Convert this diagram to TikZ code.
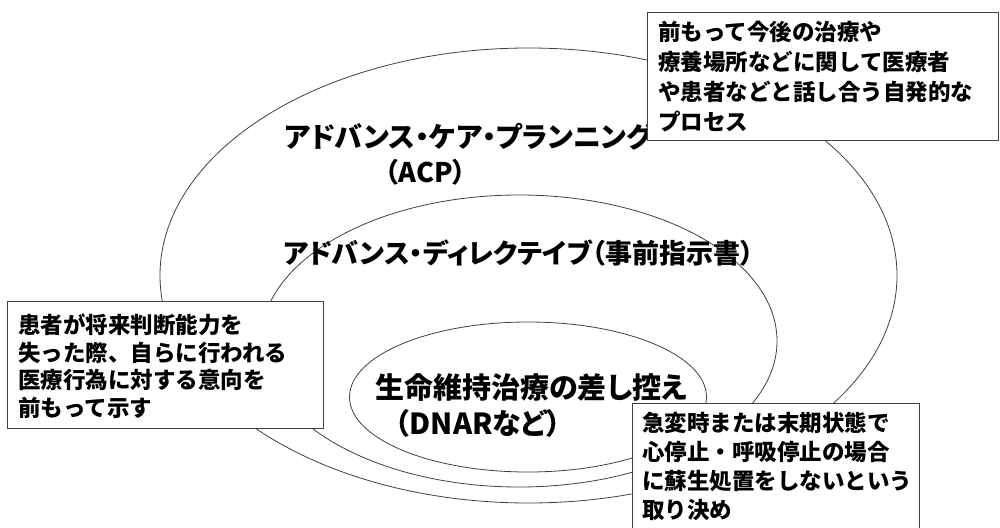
\documentclass[tikz,border=0pt]{standalone}
\usepackage{fontspec}
\setmainfont{Noto Sans CJK JP}[RawFeature={+palt}]
\newfontfamily\jpfull{Noto Sans CJK JP}
\begin{document}
\begin{tikzpicture}[x=1pt,y=-1pt,
  ring/.style={draw=black!75,line width=0.8pt},
  biglabel/.style={anchor=west,inner sep=0pt,font=\fontsize{27}{32}\selectfont\bfseries},
  notebox/.style={draw=black!75,line width=1pt,fill=white,anchor=north west,inner sep=0pt},
  notetext/.style={anchor=base west,align=left,inner sep=0pt,
    font=\jpfull\fontsize{22.5}{30}\selectfont\bfseries}]
\useasboundingbox (0,0) rectangle (1000,527);
% rings
\draw[ring] (528.5,275.5) ellipse [x radius=368.5,y radius=227.5];
\draw[ring] (519,341) ellipse [x radius=258,y radius=146];
\draw[ring] (528,397) ellipse [x radius=178.5,y radius=75];
% labels
\node[biglabel,font=\fontsize{28}{32}\selectfont\bfseries] (acp) at (284,137) {アドバンス・ケア・プランニング};
\node[biglabel] (acpabbr) at (385,172) {（ACP）};
\node[biglabel] (ad) at (283,253) {アドバンス・ディレクテイブ（事前指示書）};
\node[biglabel,font=\fontsize{29}{32}\selectfont\bfseries] (lst) at (375,388) {生命維持治療の差し控え};
\node[biglabel,font=\fontsize{29}{32}\selectfont\bfseries] (dnar) at (395,423) {（DNARなど）};
% note boxes (text anchored at the baseline of its last line)
\node[notebox,minimum width=351pt,minimum height=128pt] (nacp) at (647,12) {};
\node[notetext] (tacp) at ([shift={(11,118.5)}]nacp.north west)
  {前もって今後の治療や\\療養場所などに関して医療者\\や患者などと話し合う自発的な\\プロセス};
\node[notebox,minimum width=316pt,minimum height=127pt] (nad) at (7,301) {};
\node[notetext,font=\jpfull\fontsize{22.5}{27.5}\selectfont\bfseries] (tad) at ([shift={(11,115)}]nad.north west)
  {患者が将来判断能力を\\失った際、自らに行われる\\医療行為に対する意向を\\前もって示す};
\node[notebox,minimum width=287pt,minimum height=140pt] (ndnar) at (632,403) {};
\node[notetext,font=\jpfull\fontsize{22.5}{29}\selectfont\bfseries] (tdnar) at ([shift={(10,115.5)}]ndnar.north west)
  {急変時または末期状態で\\心停止・呼吸停止の場合\\に蘇生処置をしないという\\取り決め};
\end{tikzpicture}
\end{document}
